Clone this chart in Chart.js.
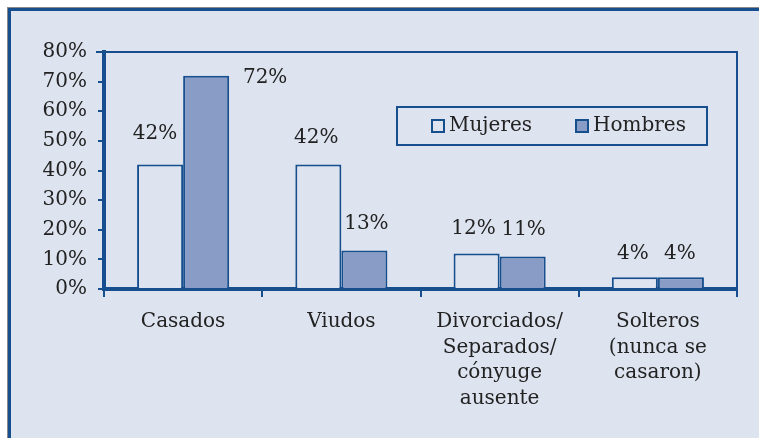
<!DOCTYPE html>
<html>
<head>
<meta charset="utf-8">
<script src="https://cdn.jsdelivr.net/npm/chart.js@4.4.1/dist/chart.umd.min.js"></script>
<style>
  html, body { margin: 0; padding: 0; background: #ffffff; }
  #wrap { width: 759px; height: 438px; position: relative; }
  canvas { display: block; }
</style>
</head>
<body>
<div id="wrap"><canvas id="chart" width="759" height="438"></canvas></div>
<script>
// Estado civil de la población de edad avanzada, por sexo (%)
const categories = [
  ['Casados'],
  ['Viudos'],
  ['Divorciados/', 'Separados/', 'cónyuge', 'ausente'],
  ['Solteros', '(nunca se', 'casaron)']
];
const seriesNames = ['Mujeres', 'Hombres'];
const mujeres = [42, 42, 12, 4];
const hombres = [72, 13, 11, 4];
const yTickValues = [0, 10, 20, 30, 40, 50, 60, 70, 80];

const NAVY = '#174e8e';
const BG = '#dde3ef';
const FILL_H = '#889cc5';
const TEXT = '#222222';
const FONT = '"DejaVu Serif", serif';

// Label placement relative to the top centre of each bar [dx, dy]
const labelOffsets = [
  [[-5, -31], [-2, -27], [-3, -25], [-2, -23]],
  [[59, 2], [2, -27], [1, -27], [-1, -23]]
];

const framePlugin = {
  id: 'frame',
  beforeDraw(chart) {
    const { ctx, width, height } = chart;
    ctx.save();
    ctx.fillStyle = '#ffffff';
    ctx.fillRect(0, 0, width, height);
    ctx.fillStyle = BG;
    ctx.fillRect(8, 8, width - 8, height - 8);
    // thin grey edge, then navy frame
    ctx.fillStyle = '#8a8a8a';
    ctx.fillRect(7, 7, width - 7, 1);
    ctx.fillRect(7, 7, 1, height - 7);
    ctx.fillStyle = NAVY;
    ctx.fillRect(8, 8, width - 8, 3);
    ctx.fillRect(8, 8, 3, height - 8);
    ctx.restore();
  },
  afterDraw(chart) {
    const { ctx, chartArea: a } = chart;
    ctx.save();
    ctx.strokeStyle = NAVY;
    ctx.lineWidth = 2;
    ctx.beginPath();
    ctx.moveTo(a.left - 8, a.top);
    ctx.lineTo(a.right, a.top);
    ctx.lineTo(a.right, a.bottom + 8);
    ctx.stroke();
    ctx.restore();
  }
};

const valueLabelPlugin = {
  id: 'valueLabels',
  afterDatasetsDraw(chart) {
    const { ctx } = chart;
    ctx.save();
    ctx.font = '20px ' + FONT;
    ctx.fillStyle = TEXT;
    ctx.textAlign = 'center';
    ctx.textBaseline = 'middle';
    chart.data.datasets.forEach((ds, di) => {
      const meta = chart.getDatasetMeta(di);
      meta.data.forEach((bar, i) => {
        const off = labelOffsets[di][i];
        ctx.fillText(ds.data[i] + '%', bar.x + off[0], bar.y + off[1]);
      });
    });
    ctx.restore();
  }
};

const boxLegendPlugin = {
  id: 'boxLegend',
  afterDraw(chart) {
    const { ctx } = chart;
    const box = { x: 397, y: 107, w: 310, h: 38 };
    ctx.save();
    ctx.strokeStyle = NAVY;
    ctx.lineWidth = 2;
    ctx.strokeRect(box.x, box.y, box.w, box.h);
    const itemX = [431, 575];
    ctx.font = '20px ' + FONT;
    ctx.textBaseline = 'middle';
    ctx.textAlign = 'left';
    chart.data.datasets.forEach((ds, i) => {
      const x = itemX[i], y = box.y + 12;
      ctx.fillStyle = ds.backgroundColor;
      ctx.fillRect(x, y, 14, 14);
      ctx.strokeStyle = NAVY;
      ctx.lineWidth = 2;
      ctx.strokeRect(x + 1, y + 1, 12, 12);
      ctx.fillStyle = TEXT;
      ctx.fillText(ds.label, x + 18, y + 7);
    });
    ctx.restore();
  }
};

new Chart(document.getElementById('chart'), {
  type: 'bar',
  data: {
    labels: categories,
    datasets: [
      { label: seriesNames[0], data: mujeres, backgroundColor: BG, borderColor: NAVY, borderWidth: 2 },
      { label: seriesNames[1], data: hombres, backgroundColor: FILL_H, borderColor: NAVY, borderWidth: 2 }
    ]
  },
  options: {
    responsive: false,
    animation: false,
    events: [],
    categoryPercentage: 0.582,
    barPercentage: 1.0,
    layout: { padding: { left: 10, right: 22, top: 52, bottom: 0 } },
    plugins: {
      legend: { display: false },
      tooltip: { enabled: false },
      title: { display: false }
    },
    scales: {
      x: {
        grid: {
          display: true, offset: true, drawOnChartArea: false, drawTicks: true,
          tickLength: 8, color: NAVY, lineWidth: 2
        },
        border: { display: true, color: NAVY, width: 4 },
        ticks: {
          color: TEXT, padding: 12, maxRotation: 0, autoSkip: false,
          font: { family: FONT, size: 20, lineHeight: 1.28 }
        },
        afterFit(scale) { scale.height = 149; }
      },
      y: {
        min: 0, max: 80,
        afterBuildTicks(scale) { scale.ticks = yTickValues.map(v => ({ value: v })); },
        grid: {
          display: true, drawOnChartArea: false, drawTicks: true,
          tickLength: 6, color: NAVY, lineWidth: 2
        },
        border: { display: true, color: NAVY, width: 4 },
        ticks: {
          color: TEXT, padding: 11,
          font: { family: FONT, size: 20 },
          callback: v => v + '%'
        },
        afterFit(scale) { scale.width = 94; }
      }
    }
  },
  plugins: [framePlugin, valueLabelPlugin, boxLegendPlugin]
});
</script>
</body>
</html>
